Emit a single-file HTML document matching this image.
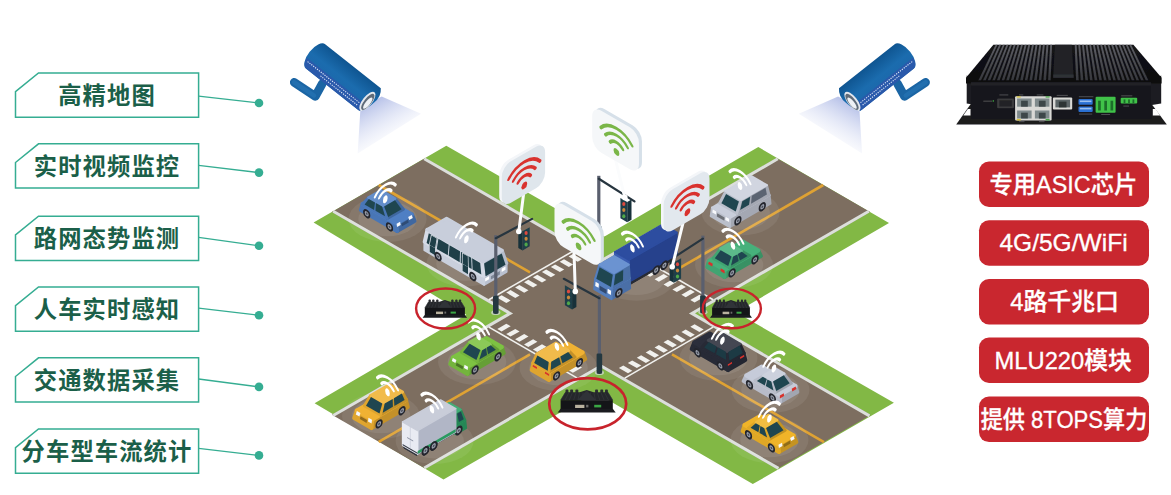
<!DOCTYPE html>
<html lang="zh"><head><meta charset="utf-8"><title>智慧交通</title>
<style>
html,body{margin:0;padding:0;background:#fff;}
body{width:1171px;height:495px;overflow:hidden;position:relative;}
svg{position:absolute;left:0;top:0;display:block}
.lb{font-family:"Liberation Sans","Noto Sans CJK SC",sans-serif;font-weight:700;font-size:23.3px;letter-spacing:1.1px;fill:#1b5f49}
.bt{font-family:"Liberation Sans","Noto Sans CJK SC",sans-serif;font-weight:500;font-size:24px;fill:#fff;stroke:#fff;stroke-width:0.3px}
</style></head><body>
<svg width="1171" height="495" viewBox="0 0 1171 495">
<rect width="1171" height="495" fill="#fff"/>
<g id="scene">
<polygon points="313.6,222.4 446.3,145.8 604.5,236.6 758.3,147.0 889.0,222.9 736.0,312.3 893.9,402.7 752.8,484.1 595.2,392.6 443.5,479.4 314.6,403.3 466.3,314.8" fill="#82b845" />
<polygon points="331.9,212.0 425.5,158.0 601.0,259.4 776.5,158.0 870.1,212.0 694.5,313.4 870.8,415.1 777.2,469.1 601.0,367.4 425.5,468.8 331.9,414.8 507.5,313.4" fill="#7d6e60" />
<polyline points="424.2,158.8 601.0,260.9 777.8,158.8" fill="none" stroke="#dcdfdb" stroke-width="3" stroke-linejoin="miter"/>
<polyline points="868.8,211.3 691.9,313.4 869.5,415.9" fill="none" stroke="#dcdfdb" stroke-width="3" stroke-linejoin="miter"/>
<polyline points="778.5,468.4 601.0,365.9 424.2,468.0" fill="none" stroke="#dcdfdb" stroke-width="3" stroke-linejoin="miter"/>
<polyline points="333.2,415.5 510.1,313.4 333.2,211.3" fill="none" stroke="#dcdfdb" stroke-width="3" stroke-linejoin="miter"/>
<polyline points="378.7,185.0 530.0,272.4" fill="none" stroke="#dfa233" stroke-width="2.6" />
<polyline points="824.0,442.1 672.0,354.4" fill="none" stroke="#dfa233" stroke-width="2.6" />
<polyline points="823.3,185.0 672.0,272.4" fill="none" stroke="#dfa233" stroke-width="2.6" />
<polyline points="378.7,441.8 530.0,354.4" fill="none" stroke="#dfa233" stroke-width="2.6" />
<polygon points="506.3,303.0 497.3,297.8 501.6,295.3 510.7,300.5" fill="#f1f1ee" /><polygon points="515.3,297.9 506.2,292.6 510.5,290.1 519.6,295.4" fill="#f1f1ee" /><polygon points="524.2,292.8 515.1,287.5 519.4,285.0 528.5,290.2" fill="#f1f1ee" /><polygon points="533.1,287.6 524.0,282.3 528.3,279.8 537.4,285.1" fill="#f1f1ee" /><polygon points="542.0,282.4 532.9,277.2 537.3,274.7 546.4,279.9" fill="#f1f1ee" /><polygon points="550.9,277.3 541.9,272.0 546.2,269.5 555.3,274.8" fill="#f1f1ee" /><polygon points="559.9,272.1 550.8,266.9 555.1,264.4 564.2,269.6" fill="#f1f1ee" /><polygon points="568.8,267.0 559.7,261.8 564.0,259.2 573.1,264.5" fill="#f1f1ee" /><polygon points="577.7,261.8 568.6,256.6 572.9,254.1 582.0,259.3" fill="#f1f1ee" /><polyline points="488.9,299.7 577.3,248.7" fill="none" stroke="#f1f1ee" stroke-width="1.6" />
<polygon points="618.9,368.0 628.0,373.3 632.3,370.8 623.3,365.5" fill="#f1f1ee" /><polygon points="627.8,362.9 636.9,368.1 641.3,365.6 632.2,360.4" fill="#f1f1ee" /><polygon points="636.8,357.8 645.9,363.0 650.2,360.5 641.1,355.2" fill="#f1f1ee" /><polygon points="645.7,352.6 654.8,357.8 659.1,355.3 650.0,350.1" fill="#f1f1ee" /><polygon points="654.6,347.4 663.7,352.7 668.0,350.2 658.9,344.9" fill="#f1f1ee" /><polygon points="663.5,342.3 672.6,347.5 676.9,345.0 667.9,339.8" fill="#f1f1ee" /><polygon points="672.4,337.1 681.5,342.4 685.9,339.9 676.8,334.6" fill="#f1f1ee" /><polygon points="681.4,332.0 690.5,337.2 694.8,334.8 685.7,329.5" fill="#f1f1ee" /><polygon points="690.3,326.8 699.4,332.1 703.7,329.6 694.6,324.3" fill="#f1f1ee" /><polyline points="624.7,378.1 713.1,327.1" fill="none" stroke="#f1f1ee" stroke-width="1.6" />
<polygon points="506.3,323.8 497.3,329.0 501.6,331.5 510.7,326.2" fill="#f1f1ee" /><polygon points="515.3,328.9 506.2,334.1 510.5,336.6 519.6,331.4" fill="#f1f1ee" /><polygon points="524.2,334.0 515.1,339.3 519.4,341.8 528.5,336.5" fill="#f1f1ee" /><polygon points="533.1,339.2 524.0,344.4 528.3,346.9 537.4,341.7" fill="#f1f1ee" /><polygon points="542.0,344.3 532.9,349.6 537.3,352.1 546.4,346.8" fill="#f1f1ee" /><polygon points="550.9,349.5 541.9,354.8 546.2,357.2 555.3,352.0" fill="#f1f1ee" /><polygon points="559.9,354.6 550.8,359.9 555.1,362.4 564.2,357.1" fill="#f1f1ee" /><polygon points="568.8,359.8 559.7,365.0 564.0,367.5 573.1,362.3" fill="#f1f1ee" /><polygon points="577.7,364.9 568.6,370.2 572.9,372.7 582.0,367.4" fill="#f1f1ee" /><polyline points="488.9,327.1 577.3,378.1" fill="none" stroke="#f1f1ee" stroke-width="1.6" />
<polygon points="618.9,258.8 628.0,253.5 632.3,256.0 623.3,261.2" fill="#f1f1ee" /><polygon points="627.8,263.9 636.9,258.6 641.3,261.1 632.2,266.4" fill="#f1f1ee" /><polygon points="636.8,269.0 645.9,263.8 650.2,266.3 641.1,271.5" fill="#f1f1ee" /><polygon points="645.7,274.2 654.8,268.9 659.1,271.4 650.0,276.7" fill="#f1f1ee" /><polygon points="654.6,279.3 663.7,274.1 668.0,276.6 658.9,281.8" fill="#f1f1ee" /><polygon points="663.5,284.5 672.6,279.2 676.9,281.8 667.9,287.0" fill="#f1f1ee" /><polygon points="672.4,289.6 681.5,284.4 685.9,286.9 676.8,292.1" fill="#f1f1ee" /><polygon points="681.4,294.8 690.5,289.5 694.8,292.0 685.7,297.3" fill="#f1f1ee" /><polygon points="690.3,299.9 699.4,294.7 703.7,297.2 694.6,302.4" fill="#f1f1ee" /><polyline points="624.7,248.7 713.1,299.7" fill="none" stroke="#f1f1ee" stroke-width="1.6" />
<ellipse cx="387.6" cy="219.0" rx="39.0" ry="23.0" fill="#fff" opacity="0.07"/><ellipse cx="387.6" cy="219.0" rx="29.3" ry="17.3" fill="#fff" opacity="0.08"/>
<ellipse cx="465.5" cy="263.5" rx="39.0" ry="23.0" fill="#fff" opacity="0.07"/><ellipse cx="465.5" cy="263.5" rx="29.3" ry="17.3" fill="#fff" opacity="0.08"/>
<ellipse cx="636.3" cy="277.7" rx="39.0" ry="23.0" fill="#fff" opacity="0.07"/><ellipse cx="636.3" cy="277.7" rx="29.3" ry="17.3" fill="#fff" opacity="0.08"/>
<ellipse cx="740.6" cy="212.5" rx="39.0" ry="23.0" fill="#fff" opacity="0.07"/><ellipse cx="740.6" cy="212.5" rx="29.3" ry="17.3" fill="#fff" opacity="0.08"/>
<ellipse cx="734.0" cy="265.0" rx="39.0" ry="23.0" fill="#fff" opacity="0.07"/><ellipse cx="734.0" cy="265.0" rx="29.3" ry="17.3" fill="#fff" opacity="0.08"/>
<ellipse cx="477.0" cy="362.0" rx="39.0" ry="23.0" fill="#fff" opacity="0.07"/><ellipse cx="477.0" cy="362.0" rx="29.3" ry="17.3" fill="#fff" opacity="0.08"/>
<ellipse cx="558.5" cy="368.0" rx="39.0" ry="23.0" fill="#fff" opacity="0.07"/><ellipse cx="558.5" cy="368.0" rx="29.3" ry="17.3" fill="#fff" opacity="0.08"/>
<ellipse cx="381.0" cy="416.0" rx="39.0" ry="23.0" fill="#fff" opacity="0.07"/><ellipse cx="381.0" cy="416.0" rx="29.3" ry="17.3" fill="#fff" opacity="0.08"/>
<ellipse cx="434.6" cy="441.1" rx="39.0" ry="23.0" fill="#fff" opacity="0.07"/><ellipse cx="434.6" cy="441.1" rx="29.3" ry="17.3" fill="#fff" opacity="0.08"/>
<ellipse cx="718.5" cy="358.0" rx="39.0" ry="23.0" fill="#fff" opacity="0.07"/><ellipse cx="718.5" cy="358.0" rx="29.3" ry="17.3" fill="#fff" opacity="0.08"/>
<ellipse cx="770.5" cy="390.0" rx="39.0" ry="23.0" fill="#fff" opacity="0.07"/><ellipse cx="770.5" cy="390.0" rx="29.3" ry="17.3" fill="#fff" opacity="0.08"/>
<ellipse cx="769.5" cy="440.0" rx="39.0" ry="23.0" fill="#fff" opacity="0.07"/><ellipse cx="769.5" cy="440.0" rx="29.3" ry="17.3" fill="#fff" opacity="0.08"/>
<polygon points="729.8,227.2 770.5,203.7 769.6,195.2 730.2,218.0" fill="#a4a8b3" stroke="#a4a8b3" stroke-width="2" stroke-linejoin="round"/><polygon points="710.7,216.2 729.8,227.2 730.2,218.0 712.0,207.5" fill="#babfcb" stroke="#babfcb" stroke-width="2" stroke-linejoin="round"/><polygon points="712.0,207.5 730.2,218.0 769.6,195.2 751.4,184.8" fill="#c9cedb" stroke="#c9cedb" stroke-width="2" stroke-linejoin="round"/><polygon points="712.3,212.4 716.0,214.5 716.4,211.4 712.7,209.3" fill="#f8f9fc" /><polygon points="725.3,219.9 729.1,222.0 729.2,218.8 725.6,216.7" fill="#f8f9fc" /><polygon points="716.8,216.4 724.3,220.7 724.5,217.5 717.2,213.3" fill="#6e7178" /><polygon points="737.1,214.0 769.6,195.2 767.0,185.2 741.0,200.2" fill="#a4a8b3" stroke="#a4a8b3" stroke-width="2" stroke-linejoin="round"/><polygon points="719.0,203.5 737.1,214.0 741.0,200.2 725.4,191.2" fill="#babfcb" stroke="#babfcb" stroke-width="2" stroke-linejoin="round"/><polygon points="725.4,191.2 741.0,200.2 767.0,185.2 751.4,176.2" fill="#d1d5e0" stroke="#d1d5e0" stroke-width="2" stroke-linejoin="round"/><polygon points="721.4,203.3 735.7,211.6 738.9,201.4 726.1,194.0" fill="#1f4650" /><polygon points="740.1,210.0 749.1,204.8 750.2,196.7 742.3,201.2" fill="#1f4650" /><polygon points="751.0,203.7 766.9,194.5 765.5,187.8 751.8,195.8" fill="#5b6472" /><g transform="matrix(0.866,-0.5,0,1,762.3,206.8)"><circle r="4.2" fill="#23252d"/><circle r="2.3" fill="#9aa0ad"/><circle r="1.1" fill="#4a4e5a"/></g><g transform="matrix(0.866,-0.5,0,1,737.9,220.8)"><circle r="4.2" fill="#23252d"/><circle r="2.3" fill="#9aa0ad"/><circle r="1.1" fill="#4a4e5a"/></g>
<polygon points="397.1,231.1 414.5,221.1 411.9,214.5 396.3,223.5" fill="#4068a0" stroke="#4068a0" stroke-width="4" stroke-linejoin="round"/><polygon points="360.8,210.1 397.1,231.1 396.3,223.5 362.7,204.1" fill="#4976b6" stroke="#4976b6" stroke-width="4" stroke-linejoin="round"/><polygon points="362.7,204.1 396.3,223.5 411.9,214.5 378.3,195.1" fill="#4f7fc4" stroke="#4f7fc4" stroke-width="4" stroke-linejoin="round"/><polygon points="397.0,227.1 400.7,225.0 400.1,221.7 396.6,223.7" fill="#f6f8fc" /><polygon points="409.2,220.1 412.8,218.0 411.7,215.0 408.2,217.0" fill="#f6f8fc" /><polygon points="402.0,226.3 408.7,222.4 408.0,219.8 401.5,223.6" fill="#2f4c75" /><polygon points="387.3,218.7 403.6,209.3 395.2,198.6 382.7,205.8" fill="#4068a0" stroke="#4068a0" stroke-width="2.6" stroke-linejoin="round"/><polygon points="362.2,204.2 387.3,218.7 382.7,205.8 368.4,197.6" fill="#4976b6" stroke="#4976b6" stroke-width="2.6" stroke-linejoin="round"/><polygon points="368.4,197.6 382.7,205.8 395.2,198.6 380.9,190.4" fill="#648ecb" stroke="#648ecb" stroke-width="2.6" stroke-linejoin="round"/><polygon points="388.2,216.9 401.6,209.2 395.0,200.3 384.2,206.5" fill="#1f4650" /><polygon points="364.6,204.4 374.1,209.9 375.0,202.4 368.8,198.9" fill="#1f4650" /><polygon points="375.5,210.7 385.1,216.2 382.1,206.5 375.9,203.0" fill="#1f4650" /><g transform="matrix(0.866,0.5,0,1,366.7,213.7)"><circle r="4.2" fill="#23252d"/><circle r="2.3" fill="#9aa0ad"/><circle r="1.1" fill="#4a4e5a"/></g><g transform="matrix(0.866,0.5,0,1,389.5,226.9)"><circle r="4.2" fill="#23252d"/><circle r="2.3" fill="#9aa0ad"/><circle r="1.1" fill="#4a4e5a"/></g>
<polygon points="484.1,284.8 506.6,271.8 506.6,263.2 484.1,276.2" fill="#b9c0cf" stroke="#b9c0cf" stroke-width="2" stroke-linejoin="round"/><polygon points="424.4,250.2 484.1,284.8 484.1,276.2 424.4,241.8" fill="#c9cfdc" stroke="#c9cfdc" stroke-width="2" stroke-linejoin="round"/><polygon points="424.4,241.8 484.1,276.2 506.6,263.2 446.9,228.8" fill="#c5cbd9" stroke="#c5cbd9" stroke-width="2" stroke-linejoin="round"/><polygon points="485.2,281.6 489.1,279.3 489.1,275.9 485.2,278.2" fill="#ffffff" /><polygon points="501.7,272.1 505.5,269.8 505.5,266.4 501.7,268.7" fill="#ffffff" /><polygon points="490.9,279.6 499.9,274.4 499.9,271.0 490.9,276.2" fill="#7e8797" /><polygon points="424.4,243.6 484.1,278.1 484.1,276.2 424.4,241.8" fill="#e8ebf1" /><polygon points="484.1,276.2 506.6,263.2 502.0,250.4 482.6,261.6" fill="#b4bccb" stroke="#b4bccb" stroke-width="3.4" stroke-linejoin="round"/><polygon points="424.4,241.8 484.1,276.2 482.6,261.6 427.2,229.6" fill="#d5dae5" stroke="#d5dae5" stroke-width="3.4" stroke-linejoin="round"/><polygon points="427.2,229.6 482.6,261.6 502.0,250.4 446.6,218.4" fill="#c8cedb" stroke="#c8cedb" stroke-width="3.4" stroke-linejoin="round"/><polygon points="485.6,276.2 505.5,264.7 501.7,253.4 484.1,263.5" fill="#1f3f48" /><polygon points="426.6,243.1 435.8,248.4 437.5,238.3 428.8,233.3" fill="#1f3f48" /><polygon points="436.8,248.9 447.8,255.3 448.7,244.8 438.4,238.8" fill="#1f3f48" /><polygon points="448.7,255.8 459.7,262.2 460.0,251.3 449.6,245.3" fill="#1f3f48" /><polygon points="460.7,262.7 471.7,269.1 471.2,257.8 460.9,251.8" fill="#1f3f48" /><polygon points="472.6,269.6 481.3,274.6 480.2,263.0 472.1,258.3" fill="#1f3f48" /><polygon points="429.0,251.9 435.8,255.9 435.8,248.4 429.0,244.4" fill="#dfe3ea" /><polygon points="429.7,252.1 435.1,255.2 435.1,248.0 429.7,244.9" fill="#1f3f48" /><polygon points="429.0,244.4 435.8,248.4 437.5,238.3 431.0,234.6" fill="#dfe3ea" /><polygon points="429.7,244.9 435.1,248.0 436.7,238.4 431.6,235.5" fill="#1f3f48" /><polygon points="461.9,270.9 468.7,274.8 468.7,267.3 461.9,263.4" fill="#dfe3ea" /><polygon points="462.6,271.1 468.0,274.2 468.0,266.9 462.6,263.8" fill="#1f3f48" /><polygon points="461.9,263.4 468.7,267.3 468.4,256.1 462.0,252.4" fill="#dfe3ea" /><polygon points="462.6,263.8 468.0,266.9 467.8,256.3 462.7,253.4" fill="#1f3f48" /><g transform="matrix(0.866,0.5,0,1,438.1,256.5)"><circle r="4.2" fill="#23252d"/><circle r="2.3" fill="#9aa0ad"/><circle r="1.1" fill="#4a4e5a"/></g><g transform="matrix(0.866,0.5,0,1,472.8,276.5)"><circle r="4.2" fill="#23252d"/><circle r="2.3" fill="#9aa0ad"/><circle r="1.1" fill="#4a4e5a"/></g>
<polygon points="724.5,277.1 760.9,256.1 758.3,250.5 724.7,269.9" fill="#399164" stroke="#399164" stroke-width="4" stroke-linejoin="round"/><polygon points="707.2,267.1 724.5,277.1 724.7,269.9 709.1,260.9" fill="#41a472" stroke="#41a472" stroke-width="4" stroke-linejoin="round"/><polygon points="709.1,260.9 724.7,269.9 758.3,250.5 742.7,241.5" fill="#46b17b" stroke="#46b17b" stroke-width="4" stroke-linejoin="round"/><polygon points="708.1,264.0 712.2,266.4 712.8,263.8 708.9,261.5" fill="#d8322c" /><polygon points="720.5,271.1 724.6,273.5 724.6,270.6 720.7,268.3" fill="#d8322c" /><polygon points="729.2,267.7 750.0,255.7 741.6,250.8 732.9,255.8" fill="#399164" stroke="#399164" stroke-width="2.6" stroke-linejoin="round"/><polygon points="712.9,258.3 729.2,267.7 732.9,255.8 720.4,248.6" fill="#41a472" stroke="#41a472" stroke-width="2.6" stroke-linejoin="round"/><polygon points="720.4,248.6 732.9,255.8 741.6,250.8 729.1,243.6" fill="#5cba8a" stroke="#5cba8a" stroke-width="2.6" stroke-linejoin="round"/><polygon points="714.8,258.3 728.2,266.0 731.5,256.4 720.7,250.2" fill="#1f4650" /><polygon points="731.0,265.5 738.7,261.0 737.2,254.4 733.2,256.6" fill="#1f4650" /><polygon points="739.9,260.4 747.6,255.9 741.7,251.7 737.8,254.0" fill="#1f4650" /><g transform="matrix(0.866,-0.5,0,1,732.1,272.9)"><circle r="4.2" fill="#23252d"/><circle r="2.3" fill="#9aa0ad"/><circle r="1.1" fill="#4a4e5a"/></g><g transform="matrix(0.866,-0.5,0,1,755.0,259.7)"><circle r="4.2" fill="#23252d"/><circle r="2.3" fill="#9aa0ad"/><circle r="1.1" fill="#4a4e5a"/></g>
<polygon points="628.1,285.7 675.7,258.2 675.7,253.7 628.1,281.2" fill="#272a33" stroke="#272a33" stroke-width="1" stroke-linejoin="round"/><polygon points="616.5,278.9 628.1,285.7 628.1,281.2 616.5,274.4" fill="#2c303a" stroke="#2c303a" stroke-width="1" stroke-linejoin="round"/><polygon points="616.5,274.4 628.1,281.2 675.7,253.7 664.0,247.0" fill="#30343f" stroke="#30343f" stroke-width="1" stroke-linejoin="round"/><polygon points="629.0,282.2 677.0,254.5 677.0,232.5 629.0,260.2" fill="#26418c" stroke="#26418c" stroke-width="1.5" stroke-linejoin="round"/><polygon points="614.7,273.9 629.0,282.2 629.0,260.2 614.7,251.9" fill="#3a5cb0" stroke="#3a5cb0" stroke-width="1.5" stroke-linejoin="round"/><polygon points="614.7,251.9 629.0,260.2 677.0,232.5 662.7,224.2" fill="#2d4da0" stroke="#2d4da0" stroke-width="1.5" stroke-linejoin="round"/><g transform="matrix(0.866,-0.5,0,1,664.4,265.3)"><circle r="4.4" fill="#23252d"/><circle r="2.4" fill="#9aa0ad"/><circle r="1.1" fill="#4a4e5a"/></g><g transform="matrix(0.866,-0.5,0,1,656.2,270.1)"><circle r="4.4" fill="#23252d"/><circle r="2.4" fill="#9aa0ad"/><circle r="1.1" fill="#4a4e5a"/></g><polygon points="611.5,299.1 630.1,288.3 629.8,278.1 611.9,288.5" fill="#4a6fa7" stroke="#4a6fa7" stroke-width="2" stroke-linejoin="round"/><polygon points="594.2,289.1 611.5,299.1 611.9,288.5 595.1,278.8" fill="#547ebd" stroke="#547ebd" stroke-width="2" stroke-linejoin="round"/><polygon points="595.1,278.8 611.9,288.5 629.8,278.1 613.0,268.4" fill="#5b88cc" stroke="#5b88cc" stroke-width="2" stroke-linejoin="round"/><polygon points="595.2,285.9 598.6,287.8 598.9,283.7 595.6,281.8" fill="#f8f9fc" /><polygon points="607.5,293.0 610.9,295.0 611.1,290.7 607.7,288.8" fill="#f8f9fc" /><polygon points="599.5,290.0 606.4,294.0 606.6,289.8 599.8,285.8" fill="#324a70" /><polygon points="611.9,288.5 629.8,278.1 628.8,264.6 614.1,273.1" fill="#4a6fa7" stroke="#4a6fa7" stroke-width="2" stroke-linejoin="round"/><polygon points="595.1,278.8 611.9,288.5 614.1,273.1 599.4,264.6" fill="#547ebd" stroke="#547ebd" stroke-width="2" stroke-linejoin="round"/><polygon points="599.4,264.6 614.1,273.1 628.8,264.6 614.1,256.1" fill="#6b93d1" stroke="#6b93d1" stroke-width="2" stroke-linejoin="round"/><polygon points="596.3,278.7 611.0,287.1 612.8,274.8 599.6,267.2" fill="#1f4650" /><polygon points="613.9,285.6 623.0,280.4 623.2,269.9 615.3,274.5" fill="#1f4650" /><g transform="matrix(0.866,-0.5,0,1,618.8,292.9)"><circle r="4.4" fill="#23252d"/><circle r="2.4" fill="#9aa0ad"/><circle r="1.1" fill="#4a4e5a"/></g>
<polygon points="728.0,370.1 745.3,360.1 743.4,352.9 727.9,361.9" fill="#232530" stroke="#232530" stroke-width="4" stroke-linejoin="round"/><polygon points="691.7,349.1 728.0,370.1 727.9,361.9 694.3,342.5" fill="#272a36" stroke="#272a36" stroke-width="4" stroke-linejoin="round"/><polygon points="694.3,342.5 727.9,361.9 743.4,352.9 709.8,333.5" fill="#2b2e3b" stroke="#2b2e3b" stroke-width="4" stroke-linejoin="round"/><polygon points="727.9,366.0 732.1,363.6 731.8,360.4 727.9,362.7" fill="#d8322c" /><polygon points="740.3,358.9 744.4,356.5 743.6,353.6 739.7,355.9" fill="#d8322c" /><polygon points="728.1,362.5 744.4,353.1 740.2,344.0 727.1,351.6" fill="#232530" stroke="#232530" stroke-width="2.6" stroke-linejoin="round"/><polygon points="701.7,347.2 728.1,362.5 727.1,351.6 708.0,340.5" fill="#272a36" stroke="#272a36" stroke-width="2.6" stroke-linejoin="round"/><polygon points="708.0,340.5 727.1,351.6 740.2,344.0 721.2,332.9" fill="#444752" stroke="#444752" stroke-width="2.6" stroke-linejoin="round"/><polygon points="729.3,360.8 742.8,353.1 739.6,345.5 728.3,352.0" fill="#1c3a44" /><polygon points="704.2,347.4 714.5,353.3 716.7,346.6 708.8,342.0" fill="#1c3a44" /><polygon points="716.0,354.2 726.2,360.1 725.8,351.8 717.9,347.3" fill="#1c3a44" /><g transform="matrix(0.866,0.5,0,1,720.4,365.9)"><circle r="4.2" fill="#23252d"/><circle r="2.3" fill="#9aa0ad"/><circle r="1.1" fill="#4a4e5a"/></g><g transform="matrix(0.866,0.5,0,1,697.5,352.7)"><circle r="4.2" fill="#23252d"/><circle r="2.3" fill="#9aa0ad"/><circle r="1.1" fill="#4a4e5a"/></g>
<polygon points="467.5,374.1 503.8,353.1 501.9,347.1 468.3,366.5" fill="#669f36" stroke="#669f36" stroke-width="4" stroke-linejoin="round"/><polygon points="450.2,364.1 467.5,374.1 468.3,366.5 452.8,357.5" fill="#74b43d" stroke="#74b43d" stroke-width="4" stroke-linejoin="round"/><polygon points="452.8,357.5 468.3,366.5 501.9,347.1 486.4,338.1" fill="#7dc242" stroke="#7dc242" stroke-width="4" stroke-linejoin="round"/><polygon points="451.8,361.0 455.4,363.1 456.4,360.0 452.9,358.0" fill="#f6f8fc" /><polygon points="464.0,368.0 467.6,370.1 468.0,366.7 464.5,364.7" fill="#f6f8fc" /><polygon points="455.9,365.4 462.6,369.3 463.1,366.6 456.6,362.8" fill="#4b7427" /><polygon points="477.3,361.7 498.1,349.7 490.6,344.4 481.9,349.4" fill="#669f36" stroke="#669f36" stroke-width="2.6" stroke-linejoin="round"/><polygon points="461.1,352.3 477.3,361.7 481.9,349.4 469.5,342.1" fill="#74b43d" stroke="#74b43d" stroke-width="2.6" stroke-linejoin="round"/><polygon points="469.5,342.1 481.9,349.4 490.6,344.4 478.1,337.1" fill="#8cc958" stroke="#8cc958" stroke-width="2.6" stroke-linejoin="round"/><polygon points="463.0,352.2 476.4,360.0 480.4,350.0 469.7,343.8" fill="#1f4650" /><polygon points="479.3,359.4 487.0,355.0 486.1,347.9 482.2,350.2" fill="#1f4650" /><polygon points="488.1,354.3 495.9,349.8 490.7,345.3 486.7,347.6" fill="#1f4650" /><g transform="matrix(0.866,-0.5,0,1,498.0,356.7)"><circle r="4.2" fill="#23252d"/><circle r="2.3" fill="#9aa0ad"/><circle r="1.1" fill="#4a4e5a"/></g><g transform="matrix(0.866,-0.5,0,1,475.1,369.9)"><circle r="4.2" fill="#23252d"/><circle r="2.3" fill="#9aa0ad"/><circle r="1.1" fill="#4a4e5a"/></g>
<polygon points="549.0,380.1 585.3,359.1 582.7,352.5 549.1,371.9" fill="#c49129" stroke="#c49129" stroke-width="4" stroke-linejoin="round"/><polygon points="531.7,370.1 549.0,380.1 549.1,371.9 533.6,362.9" fill="#dfa52f" stroke="#dfa52f" stroke-width="4" stroke-linejoin="round"/><polygon points="533.6,362.9 549.1,371.9 582.7,352.5 567.2,343.5" fill="#f0b233" stroke="#f0b233" stroke-width="4" stroke-linejoin="round"/><polygon points="532.6,366.5 536.7,368.9 537.3,365.9 533.4,363.6" fill="#d8322c" /><polygon points="544.9,373.6 549.1,376.0 549.1,372.7 545.2,370.4" fill="#d8322c" /><polygon points="548.9,372.4 575.3,357.2 569.0,350.6 549.9,361.6" fill="#c49129" stroke="#c49129" stroke-width="2.6" stroke-linejoin="round"/><polygon points="532.6,363.1 548.9,372.4 549.9,361.6 536.8,353.9" fill="#dfa52f" stroke="#dfa52f" stroke-width="2.6" stroke-linejoin="round"/><polygon points="536.8,353.9 549.9,361.6 569.0,350.6 555.8,342.9" fill="#f1bb4b" stroke="#f1bb4b" stroke-width="2.6" stroke-linejoin="round"/><polygon points="534.2,363.1 547.7,370.8 548.7,362.0 537.4,355.5" fill="#1f4650" /><polygon points="550.8,370.1 561.0,364.2 559.1,357.3 551.2,361.8" fill="#1f4650" /><polygon points="562.5,363.3 572.8,357.4 568.2,352.0 560.3,356.6" fill="#1f4650" /><g transform="matrix(0.866,-0.5,0,1,556.6,375.9)"><circle r="4.2" fill="#23252d"/><circle r="2.3" fill="#9aa0ad"/><circle r="1.1" fill="#4a4e5a"/></g><g transform="matrix(0.866,-0.5,0,1,579.5,362.7)"><circle r="4.2" fill="#23252d"/><circle r="2.3" fill="#9aa0ad"/><circle r="1.1" fill="#4a4e5a"/></g>
<polygon points="780.0,402.1 797.3,392.1 795.4,385.9 779.9,394.9" fill="#a2a6b1" stroke="#a2a6b1" stroke-width="4" stroke-linejoin="round"/><polygon points="743.7,381.1 780.0,402.1 779.9,394.9 746.3,375.5" fill="#b8bcc9" stroke="#b8bcc9" stroke-width="4" stroke-linejoin="round"/><polygon points="746.3,375.5 779.9,394.9 795.4,385.9 761.8,366.5" fill="#c6cbd9" stroke="#c6cbd9" stroke-width="4" stroke-linejoin="round"/><polygon points="779.9,398.5 784.1,396.1 783.8,393.3 779.9,395.6" fill="#d8322c" /><polygon points="792.3,391.4 796.4,389.0 795.6,386.5 791.7,388.8" fill="#d8322c" /><polygon points="775.3,392.7 791.6,383.3 784.1,373.6 771.6,380.8" fill="#a2a6b1" stroke="#a2a6b1" stroke-width="2.6" stroke-linejoin="round"/><polygon points="754.6,380.7 775.3,392.7 771.6,380.8 763.0,375.8" fill="#b8bcc9" stroke="#b8bcc9" stroke-width="2.6" stroke-linejoin="round"/><polygon points="763.0,375.8 771.6,380.8 784.1,373.6 775.4,368.6" fill="#ccd1dd" stroke="#ccd1dd" stroke-width="2.6" stroke-linejoin="round"/><polygon points="776.3,391.0 789.7,383.3 783.8,375.2 773.0,381.4" fill="#1f4650" /><polygon points="756.9,380.9 764.7,385.4 766.8,379.0 762.8,376.7" fill="#1f4650" /><polygon points="765.8,386.0 773.5,390.5 771.3,381.6 767.4,379.4" fill="#1f4650" /><g transform="matrix(0.866,0.5,0,1,772.4,397.9)"><circle r="4.2" fill="#23252d"/><circle r="2.3" fill="#9aa0ad"/><circle r="1.1" fill="#4a4e5a"/></g><g transform="matrix(0.866,0.5,0,1,749.5,384.7)"><circle r="4.2" fill="#23252d"/><circle r="2.3" fill="#9aa0ad"/><circle r="1.1" fill="#4a4e5a"/></g>
<polygon points="371.5,428.1 407.8,407.1 405.9,400.1 372.3,419.5" fill="#c49129" stroke="#c49129" stroke-width="4" stroke-linejoin="round"/><polygon points="354.2,418.1 371.5,428.1 372.3,419.5 356.8,410.5" fill="#dfa52f" stroke="#dfa52f" stroke-width="4" stroke-linejoin="round"/><polygon points="356.8,410.5 372.3,419.5 405.9,400.1 390.4,391.1" fill="#f0b233" stroke="#f0b233" stroke-width="4" stroke-linejoin="round"/><polygon points="355.8,414.5 359.4,416.6 360.4,413.1 356.9,411.1" fill="#f6f8fc" /><polygon points="368.0,421.5 371.6,423.6 372.0,419.7 368.5,417.8" fill="#f6f8fc" /><polygon points="359.9,419.1 366.6,423.0 367.1,420.0 360.6,416.2" fill="#906a1e" /><polygon points="380.5,415.2 406.9,400.0 402.7,392.0 383.7,403.0" fill="#c49129" stroke="#c49129" stroke-width="2.6" stroke-linejoin="round"/><polygon points="364.2,405.8 380.5,415.2 383.7,403.0 370.5,395.5" fill="#dfa52f" stroke="#dfa52f" stroke-width="2.6" stroke-linejoin="round"/><polygon points="370.5,395.5 383.7,403.0 402.7,392.0 389.6,384.5" fill="#f1bb4b" stroke="#f1bb4b" stroke-width="2.6" stroke-linejoin="round"/><polygon points="366.0,405.7 379.5,413.5 382.3,403.6 371.0,397.1" fill="#1f4650" /><polygon points="382.7,412.7 392.9,406.8 392.7,398.9 384.7,403.5" fill="#1f4650" /><polygon points="394.4,405.9 404.6,400.0 401.8,393.6 393.9,398.2" fill="#1f4650" /><g transform="matrix(0.866,-0.5,0,1,402.0,410.7)"><circle r="4.2" fill="#23252d"/><circle r="2.3" fill="#9aa0ad"/><circle r="1.1" fill="#4a4e5a"/></g><g transform="matrix(0.866,-0.5,0,1,379.1,423.9)"><circle r="4.2" fill="#23252d"/><circle r="2.3" fill="#9aa0ad"/><circle r="1.1" fill="#4a4e5a"/></g>
<polygon points="779.0,452.1 796.3,442.1 793.7,435.5 778.2,444.5" fill="#c49321" stroke="#c49321" stroke-width="4" stroke-linejoin="round"/><polygon points="742.7,431.1 779.0,452.1 778.2,444.5 744.6,425.1" fill="#dfa726" stroke="#dfa726" stroke-width="4" stroke-linejoin="round"/><polygon points="744.6,425.1 778.2,444.5 793.7,435.5 760.1,416.1" fill="#f0b429" stroke="#f0b429" stroke-width="4" stroke-linejoin="round"/><polygon points="778.9,448.1 782.5,446.0 782.0,442.7 778.5,444.7" fill="#f6f8fc" /><polygon points="791.1,441.1 794.7,439.0 793.6,436.0 790.1,438.0" fill="#f6f8fc" /><polygon points="783.9,447.3 790.6,443.4 789.9,440.8 783.4,444.6" fill="#906c18" /><polygon points="769.2,439.7 785.4,430.3 777.0,420.1 764.6,427.3" fill="#c49321" stroke="#c49321" stroke-width="2.6" stroke-linejoin="round"/><polygon points="748.4,427.7 769.2,439.7 764.6,427.3 755.9,422.3" fill="#dfa726" stroke="#dfa726" stroke-width="2.6" stroke-linejoin="round"/><polygon points="755.9,422.3 764.6,427.3 777.0,420.1 768.4,415.1" fill="#f1bd42" stroke="#f1bd42" stroke-width="2.6" stroke-linejoin="round"/><polygon points="770.1,438.0 783.5,430.2 776.8,421.8 766.1,428.0" fill="#1f4650" /><polygon points="750.6,427.8 758.4,432.3 759.8,425.6 755.8,423.3" fill="#1f4650" /><polygon points="759.5,433.0 767.2,437.4 764.3,428.2 760.4,425.9" fill="#1f4650" /><g transform="matrix(0.866,0.5,0,1,748.5,434.7)"><circle r="4.2" fill="#23252d"/><circle r="2.3" fill="#9aa0ad"/><circle r="1.1" fill="#4a4e5a"/></g><g transform="matrix(0.866,0.5,0,1,771.4,447.9)"><circle r="4.2" fill="#23252d"/><circle r="2.3" fill="#9aa0ad"/><circle r="1.1" fill="#4a4e5a"/></g>
<polygon points="455.7,434.1 466.1,428.1 465.2,419.9 455.5,425.5" fill="#268756" stroke="#268756" stroke-width="2" stroke-linejoin="round"/><polygon points="441.4,425.9 455.7,434.1 455.5,425.5 441.7,417.5" fill="#2b9962" stroke="#2b9962" stroke-width="2" stroke-linejoin="round"/><polygon points="441.7,417.5 455.5,425.5 465.2,419.9 451.4,411.9" fill="#2fa56a" stroke="#2fa56a" stroke-width="2" stroke-linejoin="round"/><polygon points="455.5,425.5 465.2,419.9 460.9,409.6 454.4,413.4" fill="#268756" stroke="#268756" stroke-width="2" stroke-linejoin="round"/><polygon points="441.7,417.5 455.5,425.5 454.4,413.4 442.7,406.6" fill="#2b9962" stroke="#2b9962" stroke-width="2" stroke-linejoin="round"/><polygon points="442.7,406.6 454.4,413.4 460.9,409.6 449.2,402.9" fill="#43ae78" stroke="#43ae78" stroke-width="2" stroke-linejoin="round"/><polygon points="458.9,422.0 463.7,419.2 460.9,411.6 457.2,413.7" fill="#1f4650" /><g transform="matrix(0.866,-0.5,0,1,458.8,430.5)"><circle r="4.4" fill="#23252d"/><circle r="2.4" fill="#9aa0ad"/><circle r="1.1" fill="#4a4e5a"/></g><polygon points="416.4,455.3 454.0,433.6 454.0,431.6 416.4,453.3" fill="#272a33" stroke="#272a33" stroke-width="1" stroke-linejoin="round"/><polygon points="403.9,448.1 416.4,455.3 416.4,453.3 403.9,446.1" fill="#2c303a" stroke="#2c303a" stroke-width="1" stroke-linejoin="round"/><polygon points="403.9,446.1 416.4,453.3 454.0,431.6 441.4,424.4" fill="#30343f" stroke="#30343f" stroke-width="1" stroke-linejoin="round"/><polygon points="417.7,454.1 455.7,432.1 455.7,408.6 417.7,430.6" fill="#b1b6c6" stroke="#b1b6c6" stroke-width="1.5" stroke-linejoin="round"/><polygon points="402.6,445.3 417.7,454.1 417.7,430.6 402.6,421.8" fill="#e9ebf3" stroke="#e9ebf3" stroke-width="1.5" stroke-linejoin="round"/><polygon points="402.6,421.8 417.7,430.6 455.7,408.6 440.6,399.9" fill="#c9cdd9" stroke="#c9cdd9" stroke-width="1.5" stroke-linejoin="round"/><g transform="matrix(0.866,-0.5,0,1,425.5,450.7)"><circle r="4.4" fill="#23252d"/><circle r="2.4" fill="#9aa0ad"/><circle r="1.1" fill="#4a4e5a"/></g><g transform="matrix(0.866,-0.5,0,1,433.7,445.9)"><circle r="4.4" fill="#23252d"/><circle r="2.4" fill="#9aa0ad"/><circle r="1.1" fill="#4a4e5a"/></g><polygon points="417.7,454.1 455.7,432.1 455.7,429.1 417.7,451.0" fill="#2a9a60" /><polygon points="402.6,445.3 417.7,454.1 417.7,452.7 402.6,443.9" fill="#3a3f4a" /><polygon points="409.9,448.2 410.4,448.4 410.4,427.0 409.9,426.8" fill="#b9bece" /><polygon points="407.1,438.1 413.2,441.6 413.2,440.4 407.1,436.9" fill="#8d93a5" /><g transform="matrix(0.866,-0.5,0,1,425.5,450.7)"><circle r="4.4" fill="#23252d"/><circle r="2.4" fill="#9aa0ad"/><circle r="1.1" fill="#4a4e5a"/></g><g transform="matrix(0.866,-0.5,0,1,433.7,445.9)"><circle r="4.4" fill="#23252d"/><circle r="2.4" fill="#9aa0ad"/><circle r="1.1" fill="#4a4e5a"/></g>
<g transform="matrix(0.866,-0.5,0,1,385.3,199.3)" fill="none" stroke="#fff" stroke-width="2.8" stroke-linecap="round"><ellipse rx="2.7" ry="3.7" fill="#fff" stroke="none"/><path d="M-7.0,-4.9 A8.5,8.5 0 0 1 7.0,-4.9"/><path d="M-11.9,-8.3 A14.5,14.5 0 0 1 11.9,-8.3"/></g>
<g transform="matrix(0.866,-0.5,0,1,466.4,239.3)" fill="none" stroke="#fff" stroke-width="2.8" stroke-linecap="round"><ellipse rx="2.7" ry="3.7" fill="#fff" stroke="none"/><path d="M-7.0,-4.9 A8.5,8.5 0 0 1 7.0,-4.9"/><path d="M-11.9,-8.3 A14.5,14.5 0 0 1 11.9,-8.3"/></g>
<g transform="matrix(0.866,0.5,0,1,632.4,248.4)" fill="none" stroke="#fff" stroke-width="2.8" stroke-linecap="round"><ellipse rx="2.7" ry="3.7" fill="#fff" stroke="none"/><path d="M-7.0,-4.9 A8.5,8.5 0 0 1 7.0,-4.9"/><path d="M-11.9,-8.3 A14.5,14.5 0 0 1 11.9,-8.3"/></g>
<g transform="matrix(0.866,0.5,0,1,740.0,186.0)" fill="none" stroke="#fff" stroke-width="2.8" stroke-linecap="round"><ellipse rx="2.7" ry="3.7" fill="#fff" stroke="none"/><path d="M-7.0,-4.9 A8.5,8.5 0 0 1 7.0,-4.9"/><path d="M-11.9,-8.3 A14.5,14.5 0 0 1 11.9,-8.3"/></g>
<g transform="matrix(0.866,0.5,0,1,732.9,245.6)" fill="none" stroke="#fff" stroke-width="2.8" stroke-linecap="round"><ellipse rx="2.7" ry="3.7" fill="#fff" stroke="none"/><path d="M-7.0,-4.9 A8.5,8.5 0 0 1 7.0,-4.9"/><path d="M-11.9,-8.3 A14.5,14.5 0 0 1 11.9,-8.3"/></g>
<g transform="matrix(0.866,0.5,0,1,478.5,336.2)" fill="none" stroke="#fff" stroke-width="2.8" stroke-linecap="round"><ellipse rx="2.7" ry="3.7" fill="#fff" stroke="none"/><path d="M-7.0,-4.9 A8.5,8.5 0 0 1 7.0,-4.9"/><path d="M-11.9,-8.3 A14.5,14.5 0 0 1 11.9,-8.3"/></g>
<g transform="matrix(0.866,0.5,0,1,556.9,346.7)" fill="none" stroke="#fff" stroke-width="2.8" stroke-linecap="round"><ellipse rx="2.7" ry="3.7" fill="#fff" stroke="none"/><path d="M-7.0,-4.9 A8.5,8.5 0 0 1 7.0,-4.9"/><path d="M-11.9,-8.3 A14.5,14.5 0 0 1 11.9,-8.3"/></g>
<g transform="matrix(0.866,0.5,0,1,387.5,392.2)" fill="none" stroke="#fff" stroke-width="2.8" stroke-linecap="round"><ellipse rx="2.7" ry="3.7" fill="#fff" stroke="none"/><path d="M-7.0,-4.9 A8.5,8.5 0 0 1 7.0,-4.9"/><path d="M-11.9,-8.3 A14.5,14.5 0 0 1 11.9,-8.3"/></g>
<g transform="matrix(0.866,0.5,0,1,431.9,409.4)" fill="none" stroke="#fff" stroke-width="2.8" stroke-linecap="round"><ellipse rx="2.7" ry="3.7" fill="#fff" stroke="none"/><path d="M-7.0,-4.9 A8.5,8.5 0 0 1 7.0,-4.9"/><path d="M-11.9,-8.3 A14.5,14.5 0 0 1 11.9,-8.3"/></g>
<g transform="matrix(0.866,-0.5,0,1,722.4,340.6)" fill="none" stroke="#fff" stroke-width="2.8" stroke-linecap="round"><ellipse rx="2.7" ry="3.7" fill="#fff" stroke="none"/><path d="M-7.0,-4.9 A8.5,8.5 0 0 1 7.0,-4.9"/><path d="M-11.9,-8.3 A14.5,14.5 0 0 1 11.9,-8.3"/></g>
<g transform="matrix(0.866,-0.5,0,1,773.9,368.5)" fill="none" stroke="#fff" stroke-width="2.8" stroke-linecap="round"><ellipse rx="2.7" ry="3.7" fill="#fff" stroke="none"/><path d="M-7.0,-4.9 A8.5,8.5 0 0 1 7.0,-4.9"/><path d="M-11.9,-8.3 A14.5,14.5 0 0 1 11.9,-8.3"/></g>
<g transform="matrix(0.866,-0.5,0,1,769.4,418.5)" fill="none" stroke="#fff" stroke-width="2.8" stroke-linecap="round"><ellipse rx="2.7" ry="3.7" fill="#fff" stroke="none"/><path d="M-7.0,-4.9 A8.5,8.5 0 0 1 7.0,-4.9"/><path d="M-11.9,-8.3 A14.5,14.5 0 0 1 11.9,-8.3"/></g>
<ellipse cx="598.8" cy="238.0" rx="4.6" ry="2.4" fill="#c9d2c4" opacity="0.85"/><rect x="597.2" y="175.8" width="3.2" height="51.2" fill="#5a5f6e"/><rect x="596.0" y="226.0" width="5.6" height="12.0" rx="1.2" fill="#243840"/><ellipse cx="598.8" cy="238.0" rx="2.8" ry="1.4" fill="#243840"/><line x1="598.8" y1="178.8" x2="634.5" y2="201.4" stroke="#27353f" stroke-width="2.2" stroke-linecap="round"/><polygon points="627.2,201.9 631.5,199.4 631.5,219.7 627.2,222.2" fill="#17313a" /><polygon points="620.4,198.0 627.2,201.9 627.2,222.2 620.4,218.3" fill="#1f3f49" /><ellipse cx="623.8" cy="204.0" rx="1.6" ry="2.0" fill="#de4a3f"/><ellipse cx="623.8" cy="210.1" rx="1.6" ry="2.0" fill="#c9883c"/><ellipse cx="623.8" cy="216.2" rx="1.6" ry="2.0" fill="#4fa84a"/>
<ellipse cx="495.8" cy="312.7" rx="4.6" ry="2.4" fill="#c9d2c4" opacity="0.85"/><rect x="494.2" y="235.2" width="3.2" height="61.6" fill="#5a5f6e"/><rect x="493.0" y="295.8" width="5.6" height="16.9" rx="1.2" fill="#243840"/><ellipse cx="495.8" cy="312.7" rx="2.8" ry="1.4" fill="#243840"/><line x1="495.8" y1="238.2" x2="532.1" y2="218.9" stroke="#27353f" stroke-width="2.2" stroke-linecap="round"/><polygon points="518.3,228.8 522.6,231.3 522.6,250.4 518.3,247.9" fill="#17313a" /><polygon points="522.6,231.3 529.7,227.2 529.7,246.3 522.6,250.4" fill="#1f3f49" /><ellipse cx="526.1" cy="233.1" rx="1.6" ry="2.0" fill="#de4a3f"/><ellipse cx="526.1" cy="238.8" rx="1.6" ry="2.0" fill="#c9883c"/><ellipse cx="526.1" cy="244.5" rx="1.6" ry="2.0" fill="#4fa84a"/>
<ellipse cx="702.9" cy="312.2" rx="4.6" ry="2.4" fill="#c9d2c4" opacity="0.85"/><rect x="701.3" y="235.6" width="3.2" height="61.0" fill="#5a5f6e"/><rect x="700.1" y="295.6" width="5.6" height="16.6" rx="1.2" fill="#243840"/><ellipse cx="702.9" cy="312.2" rx="2.8" ry="1.4" fill="#243840"/><line x1="702.9" y1="238.6" x2="676.7" y2="255.6" stroke="#27353f" stroke-width="2.2" stroke-linecap="round"/><polygon points="669.6,259.9 673.9,262.4 673.9,282.7 669.6,280.2" fill="#17313a" /><polygon points="673.9,262.4 681.1,258.2 681.1,278.5 673.9,282.7" fill="#1f3f49" /><ellipse cx="677.5" cy="264.3" rx="1.6" ry="2.0" fill="#de4a3f"/><ellipse cx="677.5" cy="270.4" rx="1.6" ry="2.0" fill="#c9883c"/><ellipse cx="677.5" cy="276.6" rx="1.6" ry="2.0" fill="#4fa84a"/>
<ellipse cx="599.4" cy="372.7" rx="4.6" ry="2.4" fill="#c9d2c4" opacity="0.85"/><rect x="597.8" y="295.2" width="3.2" height="59.3" fill="#5a5f6e"/><rect x="596.6" y="353.5" width="5.6" height="19.2" rx="1.2" fill="#243840"/><ellipse cx="599.4" cy="372.7" rx="2.8" ry="1.4" fill="#243840"/><line x1="599.4" y1="298.2" x2="563.8" y2="278.8" stroke="#27353f" stroke-width="2.2" stroke-linecap="round"/><polygon points="572.1,289.5 576.4,287.0 576.4,306.9 572.1,309.4" fill="#17313a" /><polygon points="564.9,285.3 572.1,289.5 572.1,309.4 564.9,305.2" fill="#1f3f49" /><ellipse cx="568.5" cy="291.4" rx="1.6" ry="2.0" fill="#de4a3f"/><ellipse cx="568.5" cy="297.4" rx="1.6" ry="2.0" fill="#c9883c"/><ellipse cx="568.5" cy="303.3" rx="1.6" ry="2.0" fill="#4fa84a"/>
<line x1="615.6" y1="160.0" x2="624.8" y2="197.4" stroke="#fbfcfd" stroke-width="3" stroke-linecap="round"/><circle cx="624.8" cy="197.4" r="2.8" fill="#ffffff"/><g transform="translate(3.0,-1.7)"><rect transform="matrix(0.866,0.5,0,1,592.2,105.5)" width="54.0" height="42.0" rx="10.5" fill="#d6e0e9"/></g><g transform="matrix(0.866,0.5,0,1,592.2,105.5)"><rect width="54.0" height="42.0" rx="10.5" fill="#f5f7f9"/><g transform="translate(28.0,32.5) scale(0.93)" fill="none" stroke="#7ab648" stroke-width="3.4" stroke-linecap="round"><circle r="3.6" fill="#7ab648" stroke="none"/><path d="M-8.0,-6.7 A10.5,10.5 0 0 1 8.0,-6.7"/><path d="M-13.8,-11.6 A18.0,18.0 0 0 1 13.8,-11.6"/><path d="M-19.5,-16.4 A25.5,25.5 0 0 1 19.5,-16.4"/></g></g>
<line x1="523.5" y1="194.5" x2="518.8" y2="231.5" stroke="#fbfcfd" stroke-width="3" stroke-linecap="round"/><circle cx="518.8" cy="231.5" r="2.8" fill="#ffffff"/><g transform="translate(-2.6,-1.5)"><rect transform="matrix(0.866,-0.5,0,1,501.8,166.5)" width="50.0" height="41.5" rx="10.5" fill="#f4f6f9"/></g><g transform="matrix(0.866,-0.5,0,1,501.8,166.5)"><rect width="50.0" height="41.5" rx="10.5" fill="#dfe6ec"/><g transform="translate(26.0,32.0) scale(0.93)" fill="none" stroke="#d9322e" stroke-width="3.4" stroke-linecap="round"><circle r="3.6" fill="#d9322e" stroke="none"/><path d="M-8.0,-6.7 A10.5,10.5 0 0 1 8.0,-6.7"/><path d="M-13.8,-11.6 A18.0,18.0 0 0 1 13.8,-11.6"/><path d="M-19.5,-16.4 A25.5,25.5 0 0 1 19.5,-16.4"/></g></g>
<line x1="682.9" y1="223.4" x2="672.2" y2="266.7" stroke="#fbfcfd" stroke-width="3" stroke-linecap="round"/><circle cx="672.2" cy="266.7" r="2.8" fill="#ffffff"/><g transform="translate(-2.6,-1.5)"><rect transform="matrix(0.866,-0.5,0,1,663.6,194.5)" width="53.0" height="41.0" rx="10.5" fill="#f4f6f9"/></g><g transform="matrix(0.866,-0.5,0,1,663.6,194.5)"><rect width="53.0" height="41.0" rx="10.5" fill="#e2e8ee"/><g transform="translate(27.5,31.5) scale(0.93)" fill="none" stroke="#d9322e" stroke-width="3.4" stroke-linecap="round"><circle r="3.6" fill="#d9322e" stroke="none"/><path d="M-8.0,-6.7 A10.5,10.5 0 0 1 8.0,-6.7"/><path d="M-13.8,-11.6 A18.0,18.0 0 0 1 13.8,-11.6"/><path d="M-19.5,-16.4 A25.5,25.5 0 0 1 19.5,-16.4"/></g></g>
<line x1="574.0" y1="252.2" x2="575.3" y2="291.4" stroke="#fbfcfd" stroke-width="3" stroke-linecap="round"/><circle cx="575.3" cy="291.4" r="2.8" fill="#ffffff"/><g transform="translate(3.0,-1.7)"><rect transform="matrix(0.866,0.5,0,1,554.5,199.5)" width="53.5" height="42.5" rx="10.5" fill="#d6e0e9"/></g><g transform="matrix(0.866,0.5,0,1,554.5,199.5)"><rect width="53.5" height="42.5" rx="10.5" fill="#f5f7f9"/><g transform="translate(27.8,33.0) scale(0.93)" fill="none" stroke="#7ab648" stroke-width="3.4" stroke-linecap="round"><circle r="3.6" fill="#7ab648" stroke="none"/><path d="M-8.0,-6.7 A10.5,10.5 0 0 1 8.0,-6.7"/><path d="M-13.8,-11.6 A18.0,18.0 0 0 1 13.8,-11.6"/><path d="M-19.5,-16.4 A25.5,25.5 0 0 1 19.5,-16.4"/></g></g>
<rect x="428.6" y="299.5" width="2.2" height="3.6" rx="0.8" fill="#2a2c30"/><rect x="432.2" y="299.5" width="2.2" height="3.6" rx="0.8" fill="#2a2c30"/><rect x="436.2" y="299.5" width="2.2" height="3.6" rx="0.8" fill="#2a2c30"/><rect x="451.3" y="299.5" width="2.2" height="3.6" rx="0.8" fill="#2a2c30"/><rect x="455.3" y="299.5" width="2.2" height="3.6" rx="0.8" fill="#2a2c30"/><rect x="458.9" y="299.5" width="2.2" height="3.6" rx="0.8" fill="#2a2c30"/><polygon points="428.4,301.7 439.5,301.7 444.9,299.9 450.2,301.7 461.3,301.7 464.9,307.9 424.8,307.9" fill="#25272b" /><line x1="428.4" y1="302.0" x2="424.8" y2="307.9" stroke="#383b40" stroke-width="0.6"/><line x1="431.1" y1="302.0" x2="428.2" y2="307.9" stroke="#383b40" stroke-width="0.6"/><line x1="433.9" y1="302.0" x2="431.5" y2="307.9" stroke="#383b40" stroke-width="0.6"/><line x1="436.6" y1="302.0" x2="434.8" y2="307.9" stroke="#383b40" stroke-width="0.6"/><line x1="439.4" y1="302.0" x2="438.2" y2="307.9" stroke="#383b40" stroke-width="0.6"/><line x1="442.1" y1="302.0" x2="441.5" y2="307.9" stroke="#383b40" stroke-width="0.6"/><line x1="444.9" y1="302.0" x2="444.9" y2="307.9" stroke="#383b40" stroke-width="0.6"/><line x1="447.6" y1="302.0" x2="448.2" y2="307.9" stroke="#383b40" stroke-width="0.6"/><line x1="450.3" y1="302.0" x2="451.5" y2="307.9" stroke="#383b40" stroke-width="0.6"/><line x1="453.1" y1="302.0" x2="454.9" y2="307.9" stroke="#383b40" stroke-width="0.6"/><line x1="455.8" y1="302.0" x2="458.2" y2="307.9" stroke="#383b40" stroke-width="0.6"/><line x1="458.6" y1="302.0" x2="461.5" y2="307.9" stroke="#383b40" stroke-width="0.6"/><line x1="461.3" y1="302.0" x2="464.9" y2="307.9" stroke="#383b40" stroke-width="0.6"/><polygon points="437.7,307.9 444.9,300.3 452.0,307.9" fill="#303338" /><rect x="424.8" y="307.9" width="40.1" height="8.9" fill="#141518"/><polygon points="422.6,317.7 424.8,314.9 464.9,314.9 467.1,317.7" fill="#1a1b1f" /><rect x="436.0" y="311.6" width="7.1" height="2.5" fill="#b9b29f"/><rect x="444.4" y="311.6" width="1.8" height="2.0" fill="#6c6c6a"/><rect x="450.6" y="311.6" width="5.3" height="2.0" fill="#3aa644"/>
<ellipse cx="445.6" cy="308.5" rx="29.5" ry="20.0" fill="none" stroke="#c8232c" stroke-width="2.4"/>
<rect x="715.7" y="299.6" width="2.1" height="3.5" rx="0.8" fill="#2a2c30"/><rect x="719.0" y="299.6" width="2.1" height="3.5" rx="0.8" fill="#2a2c30"/><rect x="722.8" y="299.6" width="2.1" height="3.5" rx="0.8" fill="#2a2c30"/><rect x="737.1" y="299.6" width="2.1" height="3.5" rx="0.8" fill="#2a2c30"/><rect x="740.9" y="299.6" width="2.1" height="3.5" rx="0.8" fill="#2a2c30"/><rect x="744.2" y="299.6" width="2.1" height="3.5" rx="0.8" fill="#2a2c30"/><polygon points="715.5,301.8 726.0,301.8 731.0,300.0 736.0,301.8 746.5,301.8 749.9,308.0 712.1,308.0" fill="#25272b" /><line x1="715.5" y1="302.1" x2="712.1" y2="308.0" stroke="#383b40" stroke-width="0.6"/><line x1="718.1" y1="302.1" x2="715.2" y2="308.0" stroke="#383b40" stroke-width="0.6"/><line x1="720.6" y1="302.1" x2="718.4" y2="308.0" stroke="#383b40" stroke-width="0.6"/><line x1="723.2" y1="302.1" x2="721.6" y2="308.0" stroke="#383b40" stroke-width="0.6"/><line x1="725.8" y1="302.1" x2="724.7" y2="308.0" stroke="#383b40" stroke-width="0.6"/><line x1="728.4" y1="302.1" x2="727.9" y2="308.0" stroke="#383b40" stroke-width="0.6"/><line x1="731.0" y1="302.1" x2="731.0" y2="308.0" stroke="#383b40" stroke-width="0.6"/><line x1="733.6" y1="302.1" x2="734.1" y2="308.0" stroke="#383b40" stroke-width="0.6"/><line x1="736.2" y1="302.1" x2="737.3" y2="308.0" stroke="#383b40" stroke-width="0.6"/><line x1="738.8" y1="302.1" x2="740.5" y2="308.0" stroke="#383b40" stroke-width="0.6"/><line x1="741.4" y1="302.1" x2="743.6" y2="308.0" stroke="#383b40" stroke-width="0.6"/><line x1="744.0" y1="302.1" x2="746.8" y2="308.0" stroke="#383b40" stroke-width="0.6"/><line x1="746.5" y1="302.1" x2="749.9" y2="308.0" stroke="#383b40" stroke-width="0.6"/><polygon points="724.3,308.0 731.0,300.4 737.7,308.0" fill="#303338" /><rect x="712.1" y="308.0" width="37.8" height="8.9" fill="#141518"/><polygon points="710.0,317.7 712.1,314.9 749.9,314.9 752.0,317.7" fill="#1a1b1f" /><rect x="722.6" y="311.7" width="6.7" height="2.5" fill="#b9b29f"/><rect x="730.6" y="311.7" width="1.7" height="2.0" fill="#6c6c6a"/><rect x="736.5" y="311.7" width="5.0" height="2.0" fill="#3aa644"/>
<ellipse cx="731.8" cy="308.4" rx="29.1" ry="19.8" fill="none" stroke="#c8232c" stroke-width="2.4"/>
<rect x="565.5" y="389.6" width="2.9" height="4.5" rx="0.8" fill="#2a2c30"/><rect x="570.2" y="389.6" width="2.9" height="4.5" rx="0.8" fill="#2a2c30"/><rect x="575.4" y="389.6" width="2.9" height="4.5" rx="0.8" fill="#2a2c30"/><rect x="595.1" y="389.6" width="2.9" height="4.5" rx="0.8" fill="#2a2c30"/><rect x="600.3" y="389.6" width="2.9" height="4.5" rx="0.8" fill="#2a2c30"/><rect x="605.0" y="389.6" width="2.9" height="4.5" rx="0.8" fill="#2a2c30"/><polygon points="565.2,392.2 579.7,392.2 586.7,390.0 593.7,392.2 608.2,392.2 612.8,400.1 560.6,400.1" fill="#25272b" /><line x1="565.2" y1="392.7" x2="560.6" y2="400.1" stroke="#383b40" stroke-width="0.6"/><line x1="568.8" y1="392.7" x2="565.0" y2="400.1" stroke="#383b40" stroke-width="0.6"/><line x1="572.4" y1="392.7" x2="569.3" y2="400.1" stroke="#383b40" stroke-width="0.6"/><line x1="576.0" y1="392.7" x2="573.6" y2="400.1" stroke="#383b40" stroke-width="0.6"/><line x1="579.5" y1="392.7" x2="578.0" y2="400.1" stroke="#383b40" stroke-width="0.6"/><line x1="583.1" y1="392.7" x2="582.4" y2="400.1" stroke="#383b40" stroke-width="0.6"/><line x1="586.7" y1="392.7" x2="586.7" y2="400.1" stroke="#383b40" stroke-width="0.6"/><line x1="590.3" y1="392.7" x2="591.1" y2="400.1" stroke="#383b40" stroke-width="0.6"/><line x1="593.9" y1="392.7" x2="595.4" y2="400.1" stroke="#383b40" stroke-width="0.6"/><line x1="597.4" y1="392.7" x2="599.8" y2="400.1" stroke="#383b40" stroke-width="0.6"/><line x1="601.0" y1="392.7" x2="604.1" y2="400.1" stroke="#383b40" stroke-width="0.6"/><line x1="604.6" y1="392.7" x2="608.5" y2="400.1" stroke="#383b40" stroke-width="0.6"/><line x1="608.2" y1="392.7" x2="612.8" y2="400.1" stroke="#383b40" stroke-width="0.6"/><polygon points="577.4,400.1 586.7,390.4 596.0,400.1" fill="#303338" /><rect x="560.6" y="400.1" width="52.2" height="11.2" fill="#141518"/><polygon points="557.7,412.4 560.6,408.8 612.8,408.8 615.7,412.4" fill="#1a1b1f" /><rect x="575.1" y="404.8" width="9.3" height="3.2" fill="#b9b29f"/><rect x="586.1" y="404.8" width="2.3" height="2.6" fill="#6c6c6a"/><rect x="594.2" y="404.8" width="7.0" height="2.6" fill="#3aa644"/>
<ellipse cx="587.7" cy="403.8" rx="38.5" ry="25.6" fill="none" stroke="#c8232c" stroke-width="2.7"/>
<defs><linearGradient id="cone" gradientUnits="userSpaceOnUse" x1="368" y1="100" x2="392" y2="142"><stop offset="0" stop-color="#aab6e4" stop-opacity="0.95"/><stop offset="1" stop-color="#dfe4f6" stop-opacity="0.05"/></linearGradient>
<linearGradient id="camb" x1="0" y1="0" x2="0" y2="1"><stop offset="0" stop-color="#0f5591"/><stop offset="0.5" stop-color="#1b6cae"/><stop offset="1" stop-color="#1d66aa"/></linearGradient></defs>
<polygon points="360.5,108 381.7,96.4 421,113.8 357.7,153.5" fill="url(#cone)"/><path d="M294.2,82.3 L315.3,96.4 L322.3,83.6" fill="none" stroke="#1b65a4" stroke-width="8.6" stroke-linecap="round" stroke-linejoin="round"/><path d="M294.2,82.3 L314,95.5" fill="none" stroke="#2877b8" stroke-width="4.5" stroke-linecap="round" opacity="0.6"/><g transform="translate(312.4,53.9) rotate(38.4)"><path d="M4,-15.5 L75,-15.5 Q81,-9 78.5,0 Q77,10 72,15.5 L4,15.5 A7.5,15.5 0 0 1 4,-15.5 Z" fill="url(#camb)"/><path d="M-2,6.5 L76,6.5 L75,12 Q74,15.5 70,15.5 L4,15.5 Q-1,14 -2,6.5 Z" fill="#2a59ab"/><line x1="1" y1="9" x2="68" y2="9" stroke="#dfe8f7" stroke-width="1.1" stroke-dasharray="1.2 1.2"/><line x1="20" y1="12.2" x2="68" y2="12.2" stroke="#dfe8f7" stroke-width="1.1" stroke-dasharray="1.2 1.2"/><ellipse cx="72.5" cy="3" rx="4.8" ry="11.6" fill="#e4e8ee"/><ellipse cx="73.2" cy="3.2" rx="3.6" ry="9.8" fill="#5f6b78"/><ellipse cx="74" cy="4.2" rx="2.3" ry="7" fill="#eef1f5"/></g>
<g transform="translate(1219.8,0) scale(-1,1)"><polygon points="360.5,108 381.7,96.4 421,113.8 357.7,153.5" fill="url(#cone)"/><path d="M294.2,82.3 L315.3,96.4 L322.3,83.6" fill="none" stroke="#1b65a4" stroke-width="8.6" stroke-linecap="round" stroke-linejoin="round"/><path d="M294.2,82.3 L314,95.5" fill="none" stroke="#2877b8" stroke-width="4.5" stroke-linecap="round" opacity="0.6"/><g transform="translate(312.4,53.9) rotate(38.4)"><path d="M4,-15.5 L75,-15.5 Q81,-9 78.5,0 Q77,10 72,15.5 L4,15.5 A7.5,15.5 0 0 1 4,-15.5 Z" fill="url(#camb)"/><path d="M-2,6.5 L76,6.5 L75,12 Q74,15.5 70,15.5 L4,15.5 Q-1,14 -2,6.5 Z" fill="#2a59ab"/><line x1="1" y1="9" x2="68" y2="9" stroke="#dfe8f7" stroke-width="1.1" stroke-dasharray="1.2 1.2"/><line x1="20" y1="12.2" x2="68" y2="12.2" stroke="#dfe8f7" stroke-width="1.1" stroke-dasharray="1.2 1.2"/><ellipse cx="72.5" cy="3" rx="4.8" ry="11.6" fill="#e4e8ee"/><ellipse cx="73.2" cy="3.2" rx="3.6" ry="9.8" fill="#5f6b78"/><ellipse cx="74" cy="4.2" rx="2.3" ry="7" fill="#eef1f5"/></g></g>
</g>
<g id="labels">
<polygon points="38.5,73.0 198.6,73.0 198.6,117.3 15.5,117.3 15.5,91.7" fill="#fff" stroke="#35ad92" stroke-width="1.5"/>
<line x1="198.6" y1="96.2" x2="259" y2="103.0" stroke="#35ad92" stroke-width="1.3"/>
<circle cx="259" cy="103.0" r="4.3" fill="#35ad92"/>
<text class="lb" x="107" y="104.0" text-anchor="middle">高精地图</text>
<polygon points="38.5,143.8 198.6,143.8 198.6,188.1 15.5,188.1 15.5,162.5" fill="#fff" stroke="#35ad92" stroke-width="1.5"/>
<line x1="198.6" y1="165.3" x2="259" y2="172.6" stroke="#35ad92" stroke-width="1.3"/>
<circle cx="259" cy="172.6" r="4.3" fill="#35ad92"/>
<text class="lb" x="107" y="174.8" text-anchor="middle">实时视频监控</text>
<polygon points="38.5,216.2 198.6,216.2 198.6,260.5 15.5,260.5 15.5,234.9" fill="#fff" stroke="#35ad92" stroke-width="1.5"/>
<line x1="198.6" y1="237.4" x2="259" y2="245.8" stroke="#35ad92" stroke-width="1.3"/>
<circle cx="259" cy="245.8" r="4.3" fill="#35ad92"/>
<text class="lb" x="107" y="247.2" text-anchor="middle">路网态势监测</text>
<polygon points="38.5,287.0 198.6,287.0 198.6,331.3 15.5,331.3 15.5,305.7" fill="#fff" stroke="#35ad92" stroke-width="1.5"/>
<line x1="198.6" y1="308.1" x2="259" y2="315.2" stroke="#35ad92" stroke-width="1.3"/>
<circle cx="259" cy="315.2" r="4.3" fill="#35ad92"/>
<text class="lb" x="107" y="318.0" text-anchor="middle">人车实时感知</text>
<polygon points="38.5,357.8 198.6,357.8 198.6,402.1 15.5,402.1 15.5,376.5" fill="#fff" stroke="#35ad92" stroke-width="1.5"/>
<line x1="198.6" y1="379.0" x2="259" y2="386.9" stroke="#35ad92" stroke-width="1.3"/>
<circle cx="259" cy="386.9" r="4.3" fill="#35ad92"/>
<text class="lb" x="107" y="388.8" text-anchor="middle">交通数据采集</text>
<polygon points="38.5,429.0 198.6,429.0 198.6,473.3 15.5,473.3 15.5,447.7" fill="#fff" stroke="#35ad92" stroke-width="1.5"/>
<line x1="198.6" y1="448.3" x2="259" y2="455.4" stroke="#35ad92" stroke-width="1.3"/>
<circle cx="259" cy="455.4" r="4.3" fill="#35ad92"/>
<text class="lb" x="107" y="460.0" text-anchor="middle">分车型车流统计</text>
<rect x="979" y="161.5" width="170" height="45.5" rx="10" fill="#c9272f"/>
<text class="bt" x="989.4" y="192.5" textLength="148.0" lengthAdjust="spacingAndGlyphs">专用ASIC芯片</text>
<rect x="979" y="220.3" width="170" height="45.5" rx="10" fill="#c9272f"/>
<text class="bt" x="999.4" y="251.3" textLength="128.2" lengthAdjust="spacingAndGlyphs">4G/5G/WiFi</text>
<rect x="979" y="279.0" width="170" height="45.5" rx="10" fill="#c9272f"/>
<text class="bt" x="1010.2" y="310.0" textLength="108.8" lengthAdjust="spacingAndGlyphs">4路千兆口</text>
<rect x="979" y="337.5" width="170" height="45.5" rx="10" fill="#c9272f"/>
<text class="bt" x="994.6" y="368.5" textLength="137.1" lengthAdjust="spacingAndGlyphs">MLU220模块</text>
<rect x="979" y="396.6" width="170" height="45.5" rx="10" fill="#c9272f"/>
<text class="bt" x="980.7" y="427.6" textLength="166.6" lengthAdjust="spacingAndGlyphs">提供 8TOPS算力</text>
</g>
<g id="device">
<defs><linearGradient id="hs" x1="0" y1="0" x2="0" y2="1"><stop offset="0" stop-color="#131316"/><stop offset="1" stop-color="#0d0d0f"/></linearGradient><filter id="soft" x="-5%" y="-5%" width="110%" height="110%"><feGaussianBlur stdDeviation="0.55"/></filter></defs>
<g filter="url(#soft)">
<polygon points="956.2,124.5 971.1,103.4 1151.2,103.4 1166.8,124.5" fill="#1b1b1f"/>
<polygon points="963.3,115.6 967.8,108.9 970.5,108.9 970.5,115.6" fill="#fff"/>
<polygon points="1152.8,108.9 1155.6,108.9 1160.1,115.6 1152.8,115.6" fill="#fff"/>
<polygon points="966.7,75.6 978.9,82.2 978.9,105.6 966.7,103.4" fill="#1e1f23"/>
<polygon points="1161.2,75.6 1149.0,82.2 1149.0,105.6 1161.2,103.4" fill="#1e1f23"/>
<polygon points="993.4,44.7 1133.4,44.7 1161.6,77.8 1161.6,83.4 966.0,83.4 966.0,77.8" fill="url(#hs)"/>
<linearGradient id="fin" gradientUnits="userSpaceOnUse" x1="0" y1="45" x2="0" y2="82"><stop offset="0" stop-color="#5d5e64"/><stop offset="1" stop-color="#35363b"/></linearGradient>
<polygon points="995.6,44.7 997.5,44.7 981.0,80.2 978.5,80.2" fill="url(#fin)"/>
<polygon points="999.2,44.7 1001.1,44.7 985.7,80.2 983.1,80.2" fill="url(#fin)"/>
<polygon points="1002.9,44.7 1004.7,44.7 990.3,80.2 987.7,80.2" fill="url(#fin)"/>
<polygon points="1006.5,44.7 1008.4,44.7 994.9,80.2 992.4,80.2" fill="url(#fin)"/>
<polygon points="1010.1,44.7 1012.0,44.7 999.6,80.2 997.0,80.2" fill="url(#fin)"/>
<polygon points="1013.8,44.7 1015.7,44.7 1004.2,80.2 1001.7,80.2" fill="url(#fin)"/>
<polygon points="1017.4,44.7 1019.3,44.7 1008.9,80.2 1006.3,80.2" fill="url(#fin)"/>
<polygon points="1021.1,44.7 1022.9,44.7 1013.5,80.2 1010.9,80.2" fill="url(#fin)"/>
<polygon points="1024.7,44.7 1026.6,44.7 1018.1,80.2 1015.6,80.2" fill="url(#fin)"/>
<polygon points="1028.3,44.7 1030.2,44.7 1022.8,80.2 1020.2,80.2" fill="url(#fin)"/>
<polygon points="1032.0,44.7 1033.9,44.7 1027.4,80.2 1024.9,80.2" fill="url(#fin)"/>
<polygon points="1035.6,44.7 1037.5,44.7 1032.1,80.2 1029.5,80.2" fill="url(#fin)"/>
<polygon points="1039.3,44.7 1041.2,44.7 1036.7,80.2 1034.1,80.2" fill="url(#fin)"/>
<polygon points="1042.9,44.7 1044.8,44.7 1041.3,80.2 1038.8,80.2" fill="url(#fin)"/>
<polygon points="1046.5,44.7 1048.4,44.7 1046.0,80.2 1043.4,80.2" fill="url(#fin)"/>
<polygon points="1050.2,44.7 1052.1,44.7 1050.6,80.2 1048.1,80.2" fill="url(#fin)"/>
<polygon points="1131.2,44.7 1129.3,44.7 1145.8,80.2 1148.3,80.2" fill="url(#fin)"/>
<polygon points="1127.6,44.7 1125.7,44.7 1141.1,80.2 1143.7,80.2" fill="url(#fin)"/>
<polygon points="1123.9,44.7 1122.0,44.7 1136.5,80.2 1139.0,80.2" fill="url(#fin)"/>
<polygon points="1120.3,44.7 1118.4,44.7 1131.8,80.2 1134.4,80.2" fill="url(#fin)"/>
<polygon points="1116.6,44.7 1114.7,44.7 1127.2,80.2 1129.7,80.2" fill="url(#fin)"/>
<polygon points="1113.0,44.7 1111.1,44.7 1122.5,80.2 1125.1,80.2" fill="url(#fin)"/>
<polygon points="1109.3,44.7 1107.5,44.7 1117.9,80.2 1120.5,80.2" fill="url(#fin)"/>
<polygon points="1105.7,44.7 1103.8,44.7 1113.3,80.2 1115.8,80.2" fill="url(#fin)"/>
<polygon points="1102.1,44.7 1100.2,44.7 1108.6,80.2 1111.2,80.2" fill="url(#fin)"/>
<polygon points="1098.4,44.7 1096.5,44.7 1104.0,80.2 1106.5,80.2" fill="url(#fin)"/>
<polygon points="1094.8,44.7 1092.9,44.7 1099.3,80.2 1101.9,80.2" fill="url(#fin)"/>
<polygon points="1091.1,44.7 1089.3,44.7 1094.7,80.2 1097.3,80.2" fill="url(#fin)"/>
<polygon points="1087.5,44.7 1085.6,44.7 1090.1,80.2 1092.6,80.2" fill="url(#fin)"/>
<polygon points="1083.9,44.7 1082.0,44.7 1085.4,80.2 1088.0,80.2" fill="url(#fin)"/>
<polygon points="1080.2,44.7 1078.3,44.7 1080.8,80.2 1083.3,80.2" fill="url(#fin)"/>
<polygon points="1076.6,44.7 1074.7,44.7 1076.1,80.2 1078.7,80.2" fill="url(#fin)"/>
<polygon points="1054.9,44.7 1071.8,44.7 1073.6,77.8 1053.2,77.8" fill="#232428"/>
<polygon points="1053.2,74.5 1073.6,74.5 1073.6,77.8 1053.2,77.8" fill="#2f3035"/>
<polygon points="971.1,82.2 1151.2,82.2 1151.2,118.9 971.1,118.9" fill="#17171a"/>
<polygon points="971.1,82.2 1151.2,82.2 1151.2,85.6 971.1,85.6" fill="#222327"/>
<rect x="997.1" y="98.5" width="16.9" height="9.8" fill="#3a3a3d" rx="1"/>
<rect x="999.4" y="100.3" width="12.4" height="6.2" fill="#232326" rx="0"/>
<rect x="1015.1" y="96.3" width="36.5" height="24.2" fill="#d9d9d6" rx="1"/>
<rect x="1017.1" y="98.5" width="14.5" height="8.2" fill="#7f8a8c" rx="0"/>
<rect x="1017.1" y="110.5" width="14.5" height="8.0" fill="#7f8a8c" rx="0"/>
<rect x="1021.1" y="100.7" width="6.7" height="6.0" fill="#3d4648" rx="0"/>
<rect x="1021.1" y="112.7" width="6.7" height="5.8" fill="#3d4648" rx="0"/>
<rect x="1034.9" y="98.5" width="14.5" height="8.2" fill="#7f8a8c" rx="0"/>
<rect x="1034.9" y="110.5" width="14.5" height="8.0" fill="#7f8a8c" rx="0"/>
<rect x="1038.9" y="100.7" width="6.7" height="6.0" fill="#3d4648" rx="0"/>
<rect x="1038.9" y="112.7" width="6.7" height="5.8" fill="#3d4648" rx="0"/>
<rect x="1016.7" y="96.3" width="4.0" height="1.3" fill="#d7c23a" rx="0"/>
<rect x="1045.6" y="96.3" width="4.0" height="1.3" fill="#4aa84a" rx="0"/>
<rect x="1016.7" y="118.9" width="4.0" height="1.6" fill="#d7c23a" rx="0"/>
<rect x="1045.6" y="118.9" width="4.0" height="1.6" fill="#4aa84a" rx="0"/>
<rect x="1052.9" y="97.4" width="19.3" height="12.0" fill="#d9d9d6" rx="1"/>
<rect x="1055.4" y="99.6" width="14.7" height="7.8" fill="#5d6668" rx="0"/>
<rect x="1058.9" y="101.6" width="7.6" height="5.8" fill="#2e3536" rx="0"/>
<rect x="1078.5" y="99.1" width="14.2" height="5.6" fill="#2b6fd2" rx="1"/>
<rect x="1078.5" y="106.5" width="14.2" height="5.6" fill="#2b6fd2" rx="1"/>
<rect x="1079.8" y="100.5" width="11.6" height="1.6" fill="#9cc0ee" rx="0"/>
<rect x="1079.8" y="107.8" width="11.6" height="1.6" fill="#9cc0ee" rx="0"/>
<rect x="1095.6" y="96.7" width="20.0" height="16.0" fill="#3fc24a" rx="1"/>
<rect x="1098.1" y="100.7" width="2.7" height="9.8" fill="#1f6d2a" rx="0"/>
<rect x="1104.3" y="100.7" width="2.7" height="9.8" fill="#1f6d2a" rx="0"/>
<rect x="1110.5" y="100.7" width="2.7" height="9.8" fill="#1f6d2a" rx="0"/>
<rect x="1120.7" y="97.8" width="16.5" height="5.6" fill="#3fc24a" rx="1"/>
<rect x="1123.6" y="99.4" width="1.8" height="3.6" fill="#1f6d2a" rx="0"/>
<rect x="1128.1" y="99.4" width="1.8" height="3.6" fill="#1f6d2a" rx="0"/>
<rect x="1132.5" y="99.4" width="1.8" height="3.6" fill="#1f6d2a" rx="0"/>
<rect x="999.4" y="94.5" width="8.9" height="0.9" fill="#55565a" rx="0"/>
<rect x="1018.9" y="94.5" width="4.4" height="0.9" fill="#55565a" rx="0"/>
<rect x="1036.7" y="94.5" width="6.7" height="0.9" fill="#55565a" rx="0"/>
<rect x="1056.7" y="94.9" width="11.1" height="0.9" fill="#55565a" rx="0"/>
<rect x="1078.9" y="96.3" width="14.5" height="0.9" fill="#55565a" rx="0"/>
<rect x="1078.9" y="113.6" width="13.3" height="0.9" fill="#55565a" rx="0"/>
<rect x="1121.2" y="95.4" width="11.1" height="0.9" fill="#55565a" rx="0"/>
<rect x="1123.4" y="105.6" width="5.6" height="0.9" fill="#55565a" rx="0"/>
<rect x="1018.9" y="121.2" width="5.6" height="0.9" fill="#55565a" rx="0"/>
<rect x="1038.9" y="121.2" width="5.6" height="0.9" fill="#55565a" rx="0"/>
<rect x="1101.2" y="114.0" width="8.9" height="0.9" fill="#55565a" rx="0"/>
<rect x="983.3" y="100.7" width="8.9" height="0.9" fill="#55565a" rx="0"/>
<rect x="992.7" y="100.3" width="1.3" height="1.3" fill="#3fae45" rx="0"/>
</g>
</g>
</svg>
</body></html>
